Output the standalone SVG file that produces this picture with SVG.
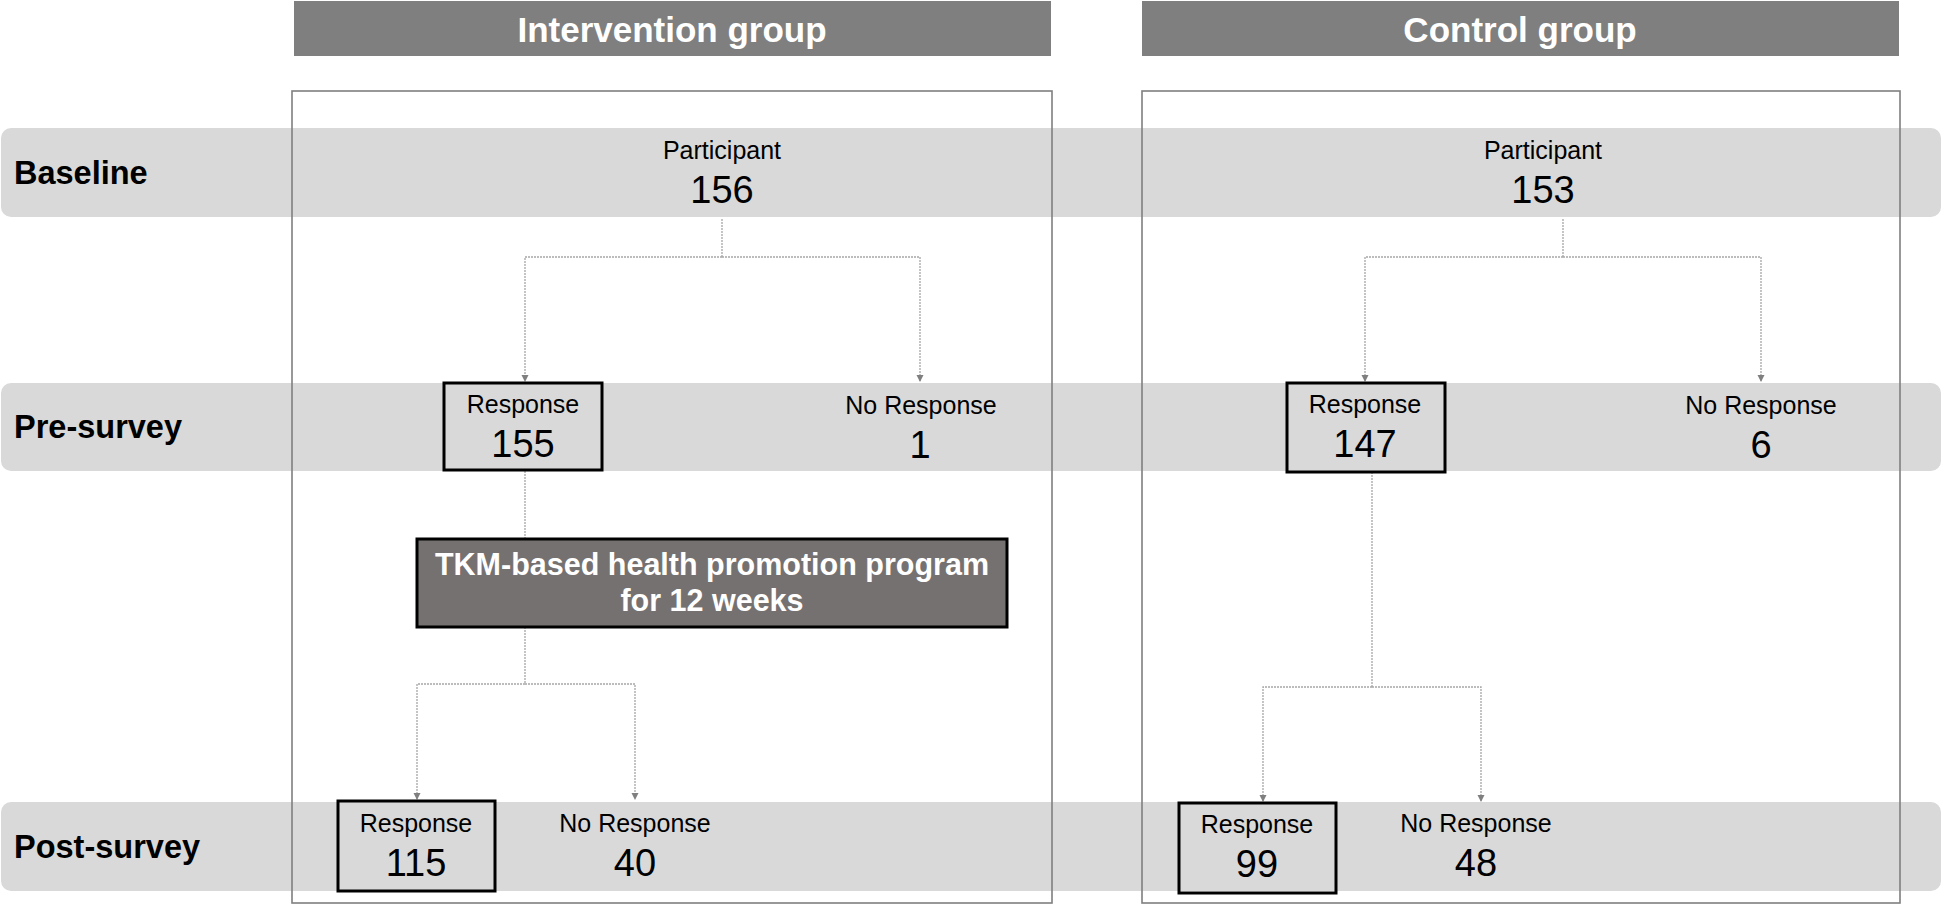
<svg xmlns="http://www.w3.org/2000/svg" width="1944" height="905" viewBox="0 0 1944 905">
<style>
.band{fill:#d9d9d9}
.grp{fill:none;stroke:#7f7f7f;stroke-width:1.6}
.hdr{fill:#7f7f7f}
.hdrt{font-family:"Liberation Sans",Arial,sans-serif;font-weight:bold;font-size:35px;fill:#ffffff;text-anchor:middle}
.row{font-family:"Liberation Sans",Arial,sans-serif;font-weight:bold;font-size:32.5px;fill:#000}
.lbl{font-family:"Liberation Sans",Arial,sans-serif;font-size:25px;fill:#000;text-anchor:middle}
.num{font-family:"Liberation Sans",Arial,sans-serif;font-size:38px;fill:#000;text-anchor:middle}
.box{fill:none;stroke:#000;stroke-width:3}
.prog{fill:#767171;stroke:#000;stroke-width:3}
.progt{font-family:"Liberation Sans",Arial,sans-serif;font-weight:bold;font-size:30.5px;fill:#fff;text-anchor:middle}
.con{fill:none;stroke:#a6a6a6;stroke-width:1.3;stroke-dasharray:2 1}
</style>
<defs>
<marker id="arr" markerUnits="userSpaceOnUse" markerWidth="8" markerHeight="8" refX="6" refY="3.5" orient="auto">
<path d="M0,0 L7,3.5 L0,7 z" fill="#7f7f7f"/>
</marker>
</defs>
<rect width="1944" height="905" fill="#ffffff"/>
<g id="bands">
<rect class="band" x="1" y="128" width="1940" height="89" rx="10"/>
<rect class="band" x="1" y="383" width="1940" height="88" rx="10"/>
<rect class="band" x="1" y="802" width="1940" height="89" rx="10"/>
<text class="row" x="14" y="184">Baseline</text>
<text class="row" x="14" y="438">Pre-survey</text>
<text class="row" x="14" y="858">Post-survey</text>
</g>
<g id="intervention-group">
<rect class="hdr" x="294" y="1" width="757" height="55"/>
<text class="hdrt" x="672" y="42">Intervention group</text>
<rect class="grp" x="292" y="91" width="760" height="812"/>
</g>
<g id="control-group">
<rect class="hdr" x="1142" y="1" width="757" height="55"/>
<text class="hdrt" x="1520" y="42">Control group</text>
<rect class="grp" x="1142" y="91" width="758" height="812"/>
</g>
<g id="connectors">
<path class="con" d="M722,219 V257"/>
<path class="con" d="M722,257 H525 V381" marker-end="url(#arr)"/>
<path class="con" d="M722,257 H920 V381" marker-end="url(#arr)"/>
<path class="con" d="M525,471 V539"/>
<path class="con" d="M525,627 V684"/>
<path class="con" d="M525,684 H417 V799" marker-end="url(#arr)"/>
<path class="con" d="M525,684 H635 V799" marker-end="url(#arr)"/>
<path class="con" d="M1563,219 V257"/>
<path class="con" d="M1563,257 H1365 V381" marker-end="url(#arr)"/>
<path class="con" d="M1563,257 H1761 V381" marker-end="url(#arr)"/>
<path class="con" d="M1372,472 V687"/>
<path class="con" d="M1372,687 H1263 V801" marker-end="url(#arr)"/>
<path class="con" d="M1372,687 H1481 V801" marker-end="url(#arr)"/>
</g>
<g id="int-participant">
<text class="lbl" x="722" y="159">Participant</text>
<text class="num" x="722" y="203">156</text>
</g>
<g id="int-pre-response">
<rect class="box" x="444" y="383" width="158" height="87"/>
<text class="lbl" x="523" y="413">Response</text>
<text class="num" x="523" y="457">155</text>
</g>
<g id="int-pre-noresponse">
<text class="lbl" x="921" y="414">No Response</text>
<text class="num" x="920" y="458">1</text>
</g>
<g id="int-program">
<rect class="prog" x="417" y="539" width="590" height="88"/>
<text class="progt" x="712" y="575">TKM-based health promotion program</text>
<text class="progt" x="712" y="611">for 12 weeks</text>
</g>
<g id="int-post-response">
<rect class="box" x="338" y="801" width="157" height="90"/>
<text class="lbl" x="416" y="832">Response</text>
<text class="num" x="416" y="876">115</text>
</g>
<g id="int-post-noresponse">
<text class="lbl" x="635" y="832">No Response</text>
<text class="num" x="635" y="876">40</text>
</g>
<g id="ctl-participant">
<text class="lbl" x="1543" y="159">Participant</text>
<text class="num" x="1543" y="203">153</text>
</g>
<g id="ctl-pre-response">
<rect class="box" x="1287" y="383" width="158" height="89"/>
<text class="lbl" x="1365" y="413">Response</text>
<text class="num" x="1365" y="457">147</text>
</g>
<g id="ctl-pre-noresponse">
<text class="lbl" x="1761" y="414">No Response</text>
<text class="num" x="1761" y="458">6</text>
</g>
<g id="ctl-post-response">
<rect class="box" x="1179" y="803" width="157" height="90"/>
<text class="lbl" x="1257" y="833">Response</text>
<text class="num" x="1257" y="877">99</text>
</g>
<g id="ctl-post-noresponse">
<text class="lbl" x="1476" y="832">No Response</text>
<text class="num" x="1476" y="876">48</text>
</g>
</svg>
